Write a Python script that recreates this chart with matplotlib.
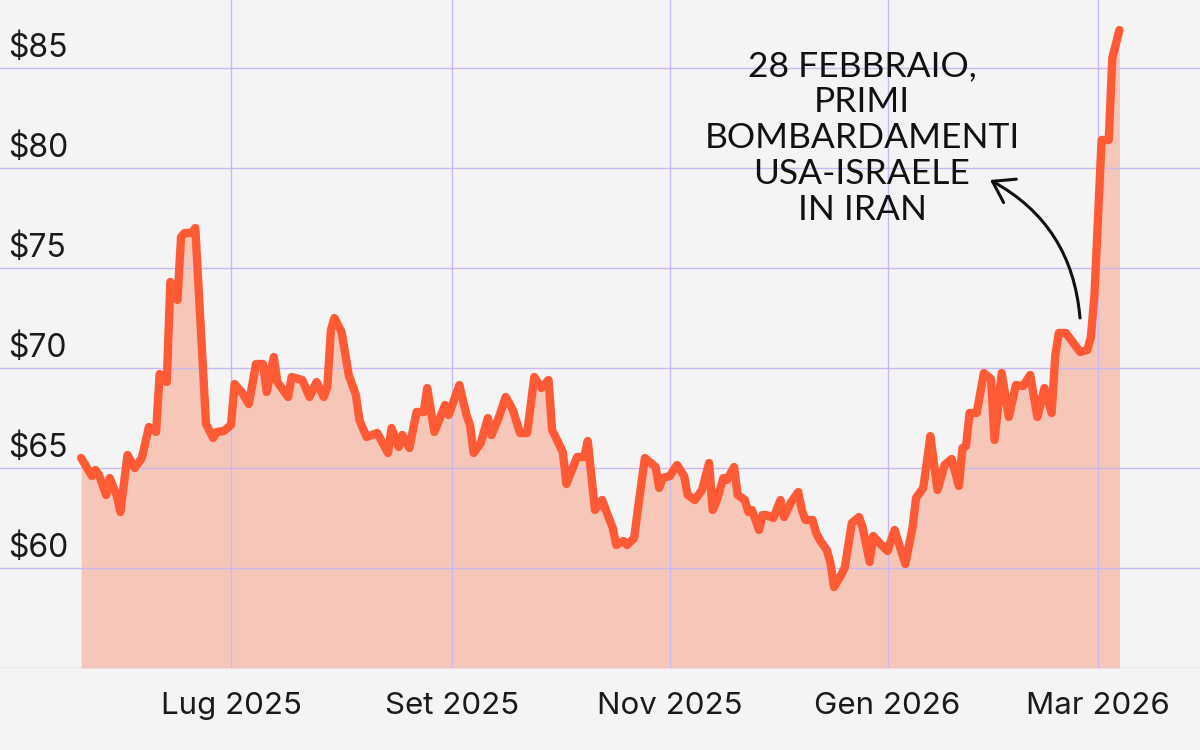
import pandas as pd
import matplotlib
matplotlib.use("Agg")
import matplotlib.pyplot as plt
from matplotlib.transforms import blended_transform_factory

# Brent price, vertices
dates = [
    "2025-05-20", "2025-05-23", "2025-05-24", "2025-05-25", "2025-05-27", "2025-05-28",
    "2025-05-30", "2025-05-31", "2025-06-02", "2025-06-04", "2025-06-06", "2025-06-08",
    "2025-06-10", "2025-06-11", "2025-06-13", "2025-06-14", "2025-06-16", "2025-06-17",
    "2025-06-18", "2025-06-20", "2025-06-21", "2025-06-24", "2025-06-26", "2025-06-27",
    "2025-06-29", "2025-07-01", "2025-07-02", "2025-07-04", "2025-07-06", "2025-07-08",
    "2025-07-10", "2025-07-11", "2025-07-13", "2025-07-14", "2025-07-17", "2025-07-18",
    "2025-07-21", "2025-07-23", "2025-07-25", "2025-07-27", "2025-07-28", "2025-07-29",
    "2025-07-30", "2025-08-01", "2025-08-03", "2025-08-05", "2025-08-06", "2025-08-08",
    "2025-08-11", "2025-08-14", "2025-08-15", "2025-08-17", "2025-08-18", "2025-08-20",
    "2025-08-22", "2025-08-24", "2025-08-25", "2025-08-27", "2025-08-30", "2025-08-31",
    "2025-09-03", "2025-09-05", "2025-09-06", "2025-09-07", "2025-09-09", "2025-09-11",
    "2025-09-12", "2025-09-14", "2025-09-16", "2025-09-18", "2025-09-20", "2025-09-22",
    "2025-09-24", "2025-09-26", "2025-09-28", "2025-09-29", "2025-10-02", "2025-10-03",
    "2025-10-06", "2025-10-08", "2025-10-09", "2025-10-11", "2025-10-13", "2025-10-15",
    "2025-10-16", "2025-10-17", "2025-10-19", "2025-10-20", "2025-10-22", "2025-10-23",
    "2025-10-25", "2025-10-28", "2025-10-29", "2025-10-30", "2025-11-01", "2025-11-03",
    "2025-11-05", "2025-11-06", "2025-11-08", "2025-11-10", "2025-11-12", "2025-11-13",
    "2025-11-14", "2025-11-16", "2025-11-17", "2025-11-19", "2025-11-20", "2025-11-22",
    "2025-11-23", "2025-11-24", "2025-11-26", "2025-11-27", "2025-11-28", "2025-11-30",
    "2025-12-02", "2025-12-03", "2025-12-05", "2025-12-07", "2025-12-08", "2025-12-09",
    "2025-12-11", "2025-12-12", "2025-12-13", "2025-12-15", "2025-12-16", "2025-12-17",
    "2025-12-19", "2025-12-20", "2025-12-22", "2025-12-24", "2025-12-25", "2025-12-27",
    "2025-12-28", "2025-12-30", "2026-01-01", "2026-01-03", "2026-01-06", "2026-01-08",
    "2026-01-09", "2026-01-11", "2026-01-12", "2026-01-13", "2026-01-15", "2026-01-17",
    "2026-01-19", "2026-01-21", "2026-01-22", "2026-01-23", "2026-01-24", "2026-01-26",
    "2026-01-28", "2026-01-30", "2026-01-31", "2026-02-02", "2026-02-04", "2026-02-06",
    "2026-02-08", "2026-02-10", "2026-02-12", "2026-02-14", "2026-02-16", "2026-02-17",
    "2026-02-18", "2026-02-20", "2026-02-24", "2026-02-26", "2026-02-27", "2026-02-28",
    "2026-03-02", "2026-03-04", "2026-03-05", "2026-03-07",
]
prices = [
    65.5, 64.6, 64.9, 64.65, 63.65, 64.5,
    63.6, 62.8, 65.65, 65.0, 65.5, 67.05,
    66.8, 69.7, 69.3, 74.3, 73.4, 76.55,
    76.75, 76.75, 77.0, 67.2, 66.5, 66.8,
    66.85, 67.15, 69.2, 68.8, 68.2, 70.2,
    70.2, 68.8, 70.55, 69.3, 68.55, 69.55,
    69.4, 68.55, 69.3, 68.55, 69.05, 71.9,
    72.5, 71.8, 69.65, 68.65, 67.4, 66.55,
    66.75, 65.75, 67.0, 66.05, 66.65, 66.0,
    67.8, 67.8, 69.0, 66.8, 68.15, 67.65,
    69.15, 67.65, 67.15, 65.75, 66.25, 67.5,
    66.65, 67.5, 68.55, 67.9, 66.75, 66.75,
    69.55, 69.0, 69.4, 66.9, 65.8, 64.2,
    65.55, 65.55, 66.35, 62.9, 63.4, 62.45,
    62.0, 61.15, 61.35, 61.15, 61.5, 62.9,
    65.5, 65.05, 64.0, 64.5, 64.6, 65.15,
    64.6, 63.65, 63.4, 63.9, 65.25, 62.9,
    63.3, 64.5, 64.4, 65.05, 63.65, 63.4,
    62.8, 62.9, 61.9, 62.65, 62.65, 62.5,
    63.4, 62.55, 63.3, 63.8, 62.9, 62.4,
    62.4, 61.75, 61.4, 60.9, 60.25, 59.05,
    59.65, 60.0, 62.25, 62.55, 62.05, 60.3,
    61.6, 61.2, 60.85, 61.9, 60.2, 62.0,
    63.5, 64.0, 65.25, 66.6, 63.9, 65.15,
    65.45, 64.1, 66.0, 66.1, 67.75, 67.75,
    69.75, 69.45, 66.4, 69.75, 67.55, 69.15,
    69.1, 69.65, 67.55, 69.0, 67.75, 70.6,
    71.75, 71.75, 70.8, 70.9, 71.55, 73.65,
    81.4, 81.4, 85.5, 86.9,
]

y_ticks = [60, 65, 70, 75, 80, 85]
y_labels = ["$60", "$65", "$70", "$75", "$80", "$85"]
x_ticks = ["2025-07-01", "2025-09-01", "2025-11-01", "2026-01-01", "2026-03-01"]
x_labels = ["Lug 2025", "Set 2025", "Nov 2025", "Gen 2026", "Mar 2026"]
note = "28 FEBBRAIO,\nPRIMI\nBOMBARDAMENTI\nUSA-ISRAELE\nIN IRAN"

BG = "#f4f4f4"
LINE = "#ff5a36"
FILL = "#f6c6b9"
GRID = "#cbb8f2"

x = pd.to_datetime(dates)
tick_dates = pd.to_datetime(x_ticks)

fig = plt.figure(figsize=(12, 7.5), dpi=100, facecolor=BG)
ax = fig.add_axes([0, 82 / 750, 1, 668 / 750])
ax.set_facecolor(BG)

# axis range: Jul 1 sits at 231 px, 3.568 px per day
jul1 = pd.Timestamp("2025-07-01")
ax.set_xlim(jul1 - pd.Timedelta(days=231 / 3.568), jul1 + pd.Timedelta(days=969 / 3.568))
ax.set_ylim(55, 55 + 668 / 20)

ax.fill_between(x, prices, 55, color=FILL, lw=0, zorder=1)
for v in [55] + y_ticks:
    ax.axhline(v, color=GRID, lw=1, zorder=2)
for d in tick_dates:
    ax.axvline(d, color=GRID, lw=1, zorder=2)
ax.plot(x, prices, color=LINE, lw=6, solid_joinstyle="round",
        solid_capstyle="round", zorder=3)

for s in ax.spines.values():
    s.set_visible(False)
ax.set_yticks([])
ax.set_xticks(tick_dates)
ax.set_xticklabels(x_labels, fontsize=22.5, family="Inter", color="#1a1a1a")
ax.tick_params(axis="x", length=0, pad=17)

trans = blended_transform_factory(ax.transAxes, ax.transData)
for v, lab in zip(y_ticks, y_labels):
    ax.annotate(lab, xy=(0, v), xycoords=trans, xytext=(8, 11),
                textcoords="offset pixels", ha="left", va="baseline",
                fontsize=23, family="Inter", color="#1a1a1a")

fig.text(862 / 1200, (750 - 138) / 750, note, ha="center", va="center",
         fontsize=25.5, family="Lato", color="#111111", linespacing=1.15,
         multialignment="center")
ax.annotate("", xy=(990, 750 - 180), xycoords="figure pixels",
            xytext=(1080, 750 - 318), textcoords="figure pixels",
            arrowprops=dict(arrowstyle="->,head_length=0.6,head_width=0.4",
                            connectionstyle="arc3,rad=0.27", lw=2.2, color="#111111",
                            mutation_scale=24, shrinkA=0, shrinkB=0))

fig.savefig("out.png", dpi=100, facecolor=BG)
